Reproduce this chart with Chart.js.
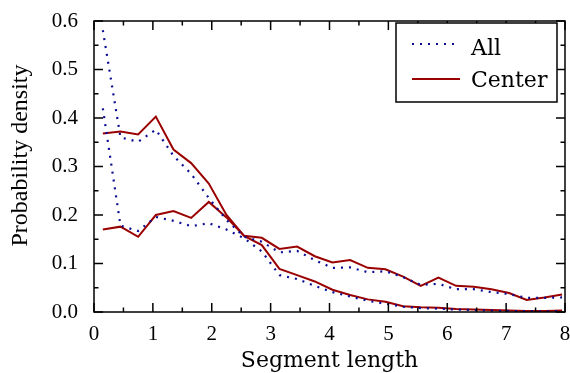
<!DOCTYPE html>
<html>
<head>
<meta charset="utf-8">
<title>Segment length density</title>
<script src="https://cdn.jsdelivr.net/npm/chart.js@4.4.1/dist/chart.umd.min.js"></script>
<style>
  html, body { margin: 0; padding: 0; background: #fff; }
</style>
</head>
<body>
<canvas id="chart" width="570" height="373"></canvas>
<script>
// bin centres along the segment-length axis
const segLength = [0.15, 0.45, 0.75, 1.05, 1.35, 1.65, 1.95, 2.25, 2.55, 2.85, 3.15, 3.45, 3.75,
  4.05, 4.35, 4.65, 4.95, 5.25, 5.55, 5.85, 6.15, 6.45, 6.75, 7.05, 7.35, 7.65, 7.95];

// "All" segments, two runs
const allA = [0.581, 0.360, 0.351, 0.376, 0.322, 0.285, 0.235, 0.190, 0.155, 0.145, 0.123, 0.126, 0.107,
  0.091, 0.092, 0.082, 0.084, 0.072, 0.056, 0.058, 0.047, 0.047, 0.041, 0.037, 0.029, 0.029, 0.030];
const allB = [0.420, 0.178, 0.167, 0.196, 0.188, 0.177, 0.183, 0.170, 0.152, 0.125, 0.076, 0.068, 0.054,
  0.041, 0.032, 0.023, 0.017, 0.011, 0.008, 0.007, 0.005, 0.004, 0.003, 0.002, 0.002, 0.001, 0.002];

// "Center" segments, two runs
const centerA = [0.368, 0.372, 0.366, 0.403, 0.335, 0.307, 0.265, 0.200, 0.157, 0.153, 0.130, 0.135, 0.115,
  0.102, 0.107, 0.091, 0.088, 0.073, 0.054, 0.071, 0.054, 0.052, 0.047, 0.039, 0.025, 0.030, 0.036];
const centerB = [0.170, 0.176, 0.155, 0.200, 0.208, 0.194, 0.227, 0.195, 0.157, 0.138, 0.089, 0.076, 0.063,
  0.046, 0.035, 0.026, 0.021, 0.012, 0.010, 0.009, 0.006, 0.005, 0.004, 0.003, 0.002, 0.002, 0.003];

const xTicks = [0, 1, 2, 3, 4, 5, 6, 7, 8];
const xTickMarks = [0, 0.5, 1, 1.5, 2, 2.5, 3, 3.5, 4, 4.5, 5, 5.5, 6, 6.5, 7, 7.5, 8];
const yTicks = [0, 0.1, 0.2, 0.3, 0.4, 0.5, 0.6];
const yTickMarks = [0, 0.05, 0.1, 0.15, 0.2, 0.25, 0.3, 0.35, 0.4, 0.45, 0.5, 0.55, 0.6];
const legendLabels = ['All', 'Center'];
const yTitle = 'Probability density';

const BLUE = '#0b0b94';
const RED = '#9a0000';
const NUM_FONT = 'Liberation Serif';
const TXT_FONT = 'DejaVu Serif';

const pts = ys => ys.map((v, i) => ({ x: segLength[i], y: v }));

function lineSet(label, ys, dotted) {
  return {
    label,
    data: pts(ys),
    borderColor: dotted ? BLUE : RED,
    borderWidth: dotted ? 2.2 : 2,
    borderDash: dotted ? [2, 6] : [],
    borderCapStyle: 'butt',
    pointRadius: 0,
    tension: 0,
    fill: false
  };
}

// box, inward ticks on all four sides
const frameTicks = {
  id: 'frameTicks',
  afterDatasetsDraw(chart) {
    const { ctx, chartArea: a, scales: { x, y } } = chart;
    ctx.save();
    ctx.strokeStyle = '#000';
    ctx.lineWidth = 1.5;
    ctx.strokeRect(a.left, a.top, a.right - a.left, a.bottom - a.top);
    ctx.beginPath();
    xTickMarks.forEach(v => {
      const px = x.getPixelForValue(v);
      const len = Number.isInteger(v) ? 9 : 4.5;
      ctx.moveTo(px, a.bottom); ctx.lineTo(px, a.bottom - len);
      ctx.moveTo(px, a.top); ctx.lineTo(px, a.top + len);
    });
    yTickMarks.forEach((v, i) => {
      const py = y.getPixelForValue(v);
      const len = i % 2 === 0 ? 9 : 4.5;
      ctx.moveTo(a.left, py); ctx.lineTo(a.left + len, py);
      ctx.moveTo(a.right, py); ctx.lineTo(a.right - len, py);
    });
    ctx.stroke();

    // y axis title, set a little above the middle of the plot
    ctx.translate(21, a.top + (a.bottom - a.top) / 2 - 11);
    ctx.rotate(-Math.PI / 2);
    ctx.fillStyle = '#000';
    ctx.font = `24px "${NUM_FONT}"`;
    ctx.textAlign = 'center';
    ctx.textBaseline = 'middle';
    ctx.fillText(yTitle, 0, 0);
    ctx.restore();
  }
};

// boxed legend in the upper right corner
const boxLegend = {
  id: 'boxLegend',
  afterDraw(chart) {
    const { ctx, chartArea: a } = chart;
    const right = a.right - 8, top = a.top + 2;
    const left = right - 161, bottom = top + 79;
    ctx.save();
    ctx.fillStyle = '#fff';
    ctx.fillRect(left, top, right - left, bottom - top);
    ctx.strokeStyle = '#000';
    ctx.lineWidth = 1.5;
    ctx.strokeRect(left, top, right - left, bottom - top);

    const rows = [
      { text: legendLabels[0], lineY: top + 21, baseY: top + 32, dotted: true },
      { text: legendLabels[1], lineY: top + 56, baseY: top + 64, dotted: false }
    ];
    rows.forEach(r => {
      ctx.beginPath();
      ctx.strokeStyle = r.dotted ? BLUE : RED;
      ctx.lineWidth = r.dotted ? 2.2 : 2;
      ctx.setLineDash(r.dotted ? [2, 6] : []);
      ctx.moveTo(left + 16, r.lineY);
      ctx.lineTo(left + 64, r.lineY);
      ctx.stroke();
      ctx.setLineDash([]);
      ctx.fillStyle = '#000';
      ctx.font = `22px "${TXT_FONT}"`;
      ctx.textBaseline = 'alphabetic';
      ctx.textAlign = 'left';
      ctx.fillText(r.text, left + 75, r.baseY);
    });
    ctx.restore();
  }
};

new Chart(document.getElementById('chart'), {
  type: 'line',
  data: {
    datasets: [
      lineSet('All', allA, true),
      lineSet('All', allB, true),
      lineSet('Center', centerA, false),
      lineSet('Center', centerB, false)
    ]
  },
  options: {
    responsive: false,
    animation: false,
    layout: { padding: { top: 21, right: 5, left: 0, bottom: 0 } },
    plugins: {
      legend: { display: false },
      tooltip: { enabled: false }
    },
    scales: {
      x: {
        type: 'linear',
        min: 0,
        max: 8,
        afterFit: s => { s.height = 61; s.paddingLeft = 0; s.paddingRight = 0; },
        afterBuildTicks: s => { s.ticks = xTicks.map(v => ({ value: v })); },
        grid: { display: false, drawTicks: false },
        border: { display: false },
        ticks: {
          autoSkip: false,
          maxRotation: 0,
          padding: 10,
          color: '#000',
          font: { family: NUM_FONT, size: 21 }
        },
        title: {
          display: true,
          text: 'Segment length',
          color: '#000',
          font: { family: TXT_FONT, size: 22, lineHeight: 1 },
          padding: { top: 0, bottom: 1 }
        }
      },
      y: {
        min: 0,
        max: 0.6,
        afterFit: s => { s.width = 94; s.paddingTop = 0; s.paddingBottom = 0; },
        afterBuildTicks: s => { s.ticks = yTicks.map(v => ({ value: v })); },
        grid: { display: false, drawTicks: false },
        border: { display: false },
        ticks: {
          padding: 16,
          color: '#000',
          font: { family: NUM_FONT, size: 21 },
          callback: v => v.toFixed(1)
        },
        title: { display: false }
      }
    }
  },
  plugins: [frameTicks, boxLegend]
});
</script>
</body>
</html>
